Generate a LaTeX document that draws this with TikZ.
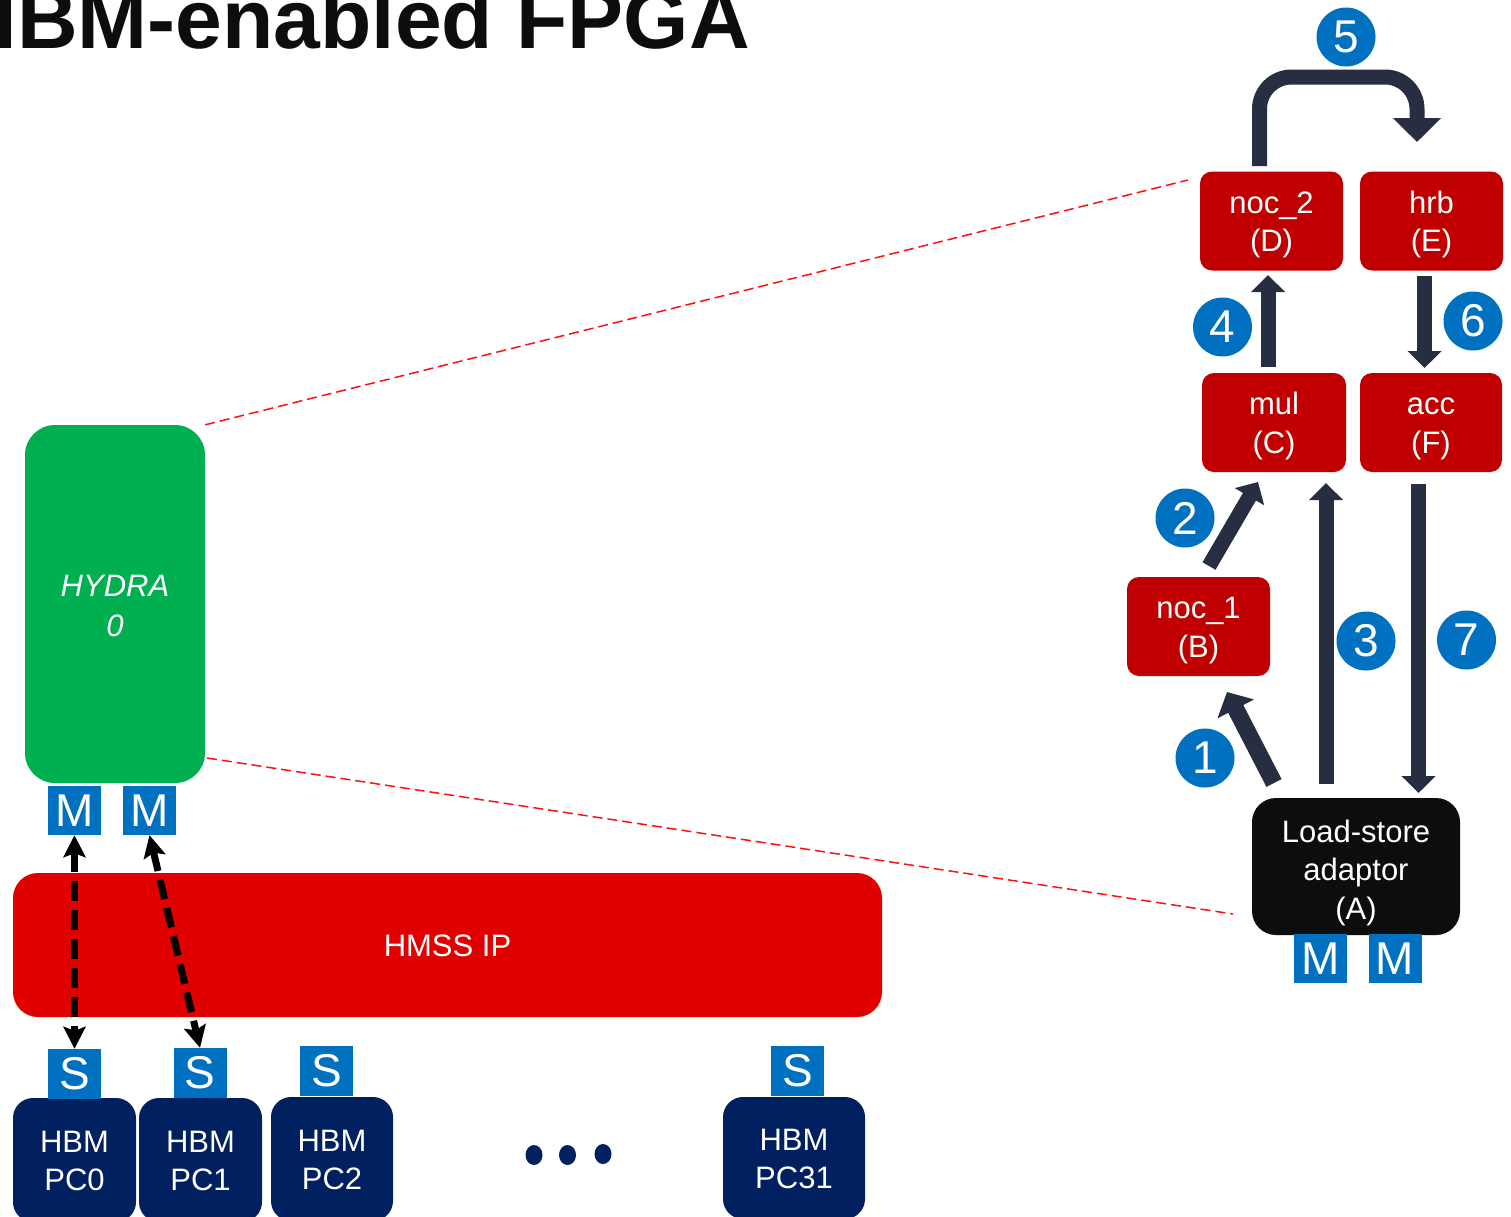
\documentclass[tikz,border=0pt]{standalone}
\usepackage{fontspec}
\setmainfont{Liberation Sans}
\usetikzlibrary{arrows.meta,calc}

\definecolor{boxred}{HTML}{C00000}
\definecolor{hmssred}{HTML}{E00000}
\definecolor{hydragreen}{HTML}{00B050}
\definecolor{tagblue}{HTML}{0070C0}
\definecolor{hbmnavy}{HTML}{002060}
\definecolor{adaptorblack}{HTML}{0D0D0D}
\definecolor{flowdark}{HTML}{272E42}
\definecolor{guidered}{HTML}{FF1010}

\newcommand\lblfont{\fontsize{31}{38.5}\selectfont}
\newcommand\tagfont{\fontsize{46}{50}\selectfont}
% struts that fix the height of a label's first line and the depth of its last line
\newcommand\topst[1][30pt]{\rule{0pt}{#1}}
\newcommand\botst{\rule[-7pt]{0pt}{7pt}}

\tikzset{
  block/.style={rounded corners=12pt, text=white, font=\lblfont, align=center,
    inner sep=0pt, minimum width=143pt, minimum height=99pt},
  kernel/.style={block, fill=boxred},
  hbm/.style={block, fill=hbmnavy, rounded corners=20pt, minimum width=123pt, minimum height=124pt},
  port/.style={fill=tagblue, text=white, font=\tagfont, inner sep=0pt,
    minimum width=53pt, minimum height=49pt},
  stepnum/.style={circle, fill=tagblue, text=white, font=\tagfont, inner sep=0pt,
    minimum size=59pt},
  flow/.style={draw=flowdark, line width=15pt, -{Triangle[width=33pt,length=17pt]}},
  memlink/.style={draw=black, line width=7pt, dash pattern=on 20pt off 9pt,
    {Stealth[width=22pt,length=22pt,inset=4pt]}-{Stealth[width=22pt,length=22pt,inset=4pt]}},
  guide/.style={draw=guidered, line width=1.5pt, dash pattern=on 10pt off 5pt},
}

\begin{document}
\begin{tikzpicture}[x=1pt, y=-1pt]
\useasboundingbox (0,0) rectangle (1511,1216);
\fill[white] (0,0) rectangle (1511,1216);

% title (partly above the page edge)
\node[anchor=base east, inner sep=0pt, text=adaptorblack,
      font=\fontsize{84}{90}\selectfont\bfseries] (title) at (750,48) {HBM-enabled FPGA};

% left: HYDRA kernel, HMSS and HBM pseudo-channels
\node[block, fill=hydragreen, rounded corners=30pt, minimum width=180pt, minimum height=358pt,
      font=\fontsize{31}{40}\selectfont\itshape]
  (hy) at (115,604) {\topst[31pt]HYDRA\\0\botst};
\node[port] (m1) at (74.5,810.5) {M};
\node[port] (m2) at (149.5,810.5) {M};

\node[block, fill=hmssred, rounded corners=25pt, minimum width=869pt, minimum height=144pt]
  (hmss) at (447.5,945) {\topst HMSS IP\botst};

\node[hbm] (pc0) at (74.5,1160) {\topst HBM\\PC0\botst};
\node[hbm] (pc1) at (200.5,1160) {\topst HBM\\PC1\botst};
\node[hbm, minimum width=122pt] (pc2) at (332,1159) {\topst HBM\\PC2\botst};
\node[hbm, minimum width=142pt, minimum height=122pt] (pc31) at (794,1158) {\topst HBM\\PC31\botst};

\node[port, minimum height=50pt] (s0) at (74.5,1074) {S};
\node[port, minimum height=50pt] (s1) at (200,1073) {S};
\node[port, minimum height=50pt] (s2) at (326.5,1071) {S};
\node[port, minimum height=50pt] (s31) at (797.5,1071) {S};

\fill[hbmnavy] (534,1155) ellipse [x radius=8.5pt, y radius=10pt];
\fill[hbmnavy] (567.5,1155) ellipse [x radius=8.5pt, y radius=10pt];
\fill[hbmnavy] (603,1154) ellipse [x radius=8.5pt, y radius=10pt];

\draw[memlink] (m1.south) -- (s0.north);
\draw[memlink] (m2.south) -- (s1.north);

% right: zoomed view of the kernel pipeline
\node[kernel] (D) at (1271.5,221) {\topst noc\_2\\(D)\botst};
\node[kernel] (E) at (1431.5,221) {\topst hrb\\(E)\botst};
\node[kernel, minimum width=144pt] (C) at (1274,422.5) {\topst mul\\(C)\botst};
\node[kernel, minimum width=142pt] (F) at (1431,422.5) {\topst acc\\(F)\botst};
\node[kernel] (B) at (1198.5,626.5) {\topst noc\_1\\(B)\botst};
\node[block, fill=adaptorblack, rounded corners=24pt, minimum width=208pt, minimum height=137pt]
  (A) at (1356,866.5) {\topst[35pt]Load-store\\adaptor\\(A)\botst};
\node[port] (ma1) at (1320.5,958.5) {M};
\node[port] (ma2) at (1395,958.5) {M};

% zoom guides
\coordinate (gtop) at (1188,180);
\coordinate (hylow) at (207,758);
\coordinate (gbot) at (1233,914);
\draw[guide] (hy.north east) -- (gtop);
\draw[guide] (hylow) -- (gbot);

% dataflow arrows
\coordinate (f1s) at (1274,783);  \coordinate (f1e) at (1227,692);
\coordinate (f2s) at (1209,566);  \coordinate (f2e) at (1258,482);
\coordinate (f3s) at (1326,784);  \coordinate (f3e) at (1326,483);
\coordinate (f4s) at (1268,367);  \coordinate (f4e) at (1268,275);
\coordinate (f5s) at (1259.5,166); \coordinate (f5e) at (1417,142);
\coordinate (f6s) at (1424.5,276); \coordinate (f6e) at (1424.5,368);
\coordinate (f7s) at (1418.5,484); \coordinate (f7e) at (1418.5,793);

\draw[flow, line width=17pt, -{Triangle[width=40pt,length=19pt]}] (f1s) -- (f1e);
\draw[flow] (f2s) -- (f2e);
\draw[flow] (f3s) -- (f3e);
\draw[flow] (f4s) -- (f4e);
\draw[flow, rounded corners=32pt, -{Triangle[width=47pt,length=24pt]}]
  (f5s) |- ($(f5e)+(0,-65)$) -- (f5e);
\draw[flow] (f6s) -- (f6e);
\draw[flow] (f7s) -- (f7e);

% step numbers
\node[stepnum] (n1) at (1205,758) {1};
\node[stepnum] (n2) at (1185,518) {2};
\node[stepnum] (n3) at (1366,641) {3};
\node[stepnum] (n4) at (1222.5,327) {4};
\node[stepnum] (n5) at (1346,37) {5};
\node[stepnum] (n6) at (1473,321) {6};
\node[stepnum] (n7) at (1466.5,640) {7};
\end{tikzpicture}
\end{document}
